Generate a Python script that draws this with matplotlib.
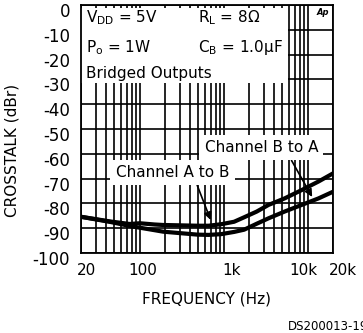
import numpy as np
import matplotlib
matplotlib.use("Agg")
import matplotlib.pyplot as plt
import matplotlib.transforms as mtransforms
from matplotlib.patches import Rectangle
from matplotlib.ticker import LogLocator, NullFormatter, FixedLocator

# curve data
freq = [20, 45, 76, 100, 150, 190, 490, 660, 930, 1330, 1750, 2470, 3420, 5300, 8500, 13400, 20000]
a_to_b = [-85.4, -87.3, -88.3, -88.0, -88.5, -88.7, -89.0, -89.0, -88.4, -87.4, -85.6,
          -83.3, -80.6, -78.0, -74.6, -71.2, -67.9]
b_to_a = [-85.4, -87.5, -89.1, -89.8, -90.8, -91.4, -92.6, -92.7, -92.4, -91.5, -90.6,
          -88.2, -86.0, -83.3, -80.6, -78.0, -75.3]

xticks = [20, 100, 1000, 10000, 20000]
xtick_labels = ["20", "100", "1k", "10k", "20k"]
yticks = [0, -10, -20, -30, -40, -50, -60, -70, -80, -90, -100]

plt.rcParams['font.family'] = ['DejaVu Sans']
plt.rcParams['mathtext.default'] = 'regular'

fig = plt.figure(figsize=(3.63, 3.33), dpi=100)
ax = fig.add_axes([81 / 363, 1 - 253 / 333, 252 / 363, 248 / 333])

ax.set_xscale('log')
ax.set_xlim(20, 20000)
ax.set_ylim(-100, 0)

ax.xaxis.set_major_locator(FixedLocator(xticks))
ax.set_xticklabels(xtick_labels)
ax.xaxis.set_minor_locator(LogLocator(base=10, subs=np.arange(2, 10)))
ax.xaxis.set_minor_formatter(NullFormatter())
ax.set_yticks(yticks)
ax.set_yticklabels([str(v) for v in yticks])

ax.tick_params(which='both', length=0)
ax.tick_params(axis='y', pad=8, labelsize=12)
ax.tick_params(axis='x', pad=7, labelsize=11)

# nudge labels the way the datasheet has them
for lbl, dx in zip(ax.get_xticklabels(), [6, 3, 8, -4, 10]):
    lbl.set_transform(lbl.get_transform() +
                      mtransforms.ScaledTranslation(dx / 100, 0, fig.dpi_scale_trans))
for lbl in ax.get_yticklabels():
    lbl.set_transform(lbl.get_transform() +
                      mtransforms.ScaledTranslation(0, -5 / 100, fig.dpi_scale_trans))

ax.grid(which='major', axis='both', color='k', lw=1.2)
ax.grid(which='minor', axis='x', color='k', lw=1.2)
for s in ax.spines.values():
    s.set_linewidth(1.3)

ax.plot(freq, a_to_b, color='k', lw=3, zorder=3)
ax.plot(freq, b_to_a, color='k', lw=3, zorder=3)

# white panel behind the conditions text
ax.add_patch(Rectangle((20, -31.5), 5900 - 20, 30.3, facecolor='white',
                       edgecolor='none', zorder=2.5))
ax.text(23, -5, r'V$_{DD}$ = 5V', fontsize=11, va='center', zorder=4)
ax.text(500, -5, r'R$_{L}$ = 8Ω', fontsize=11, va='center', zorder=4)
ax.text(23, -17, r'P$_{o}$ = 1W', fontsize=11, va='center', zorder=4)
ax.text(500, -17, r'C$_{B}$ = 1.0µF', fontsize=11, va='center', zorder=4)
ax.text(23, -27.6, 'Bridged Outputs', fontsize=11, va='center', zorder=4)
ax.text(18000, -3, 'Ap', fontsize=6, fontweight='bold', style='italic',
        ha='right', va='center', zorder=4)

box = dict(boxstyle='square,pad=0.35', facecolor='white', edgecolor='none')
ax.annotate('Channel B to A', xy=(11300, -77.4), xytext=(2800, -57.5),
            fontsize=11, ha='center', va='center', bbox=box, zorder=4,
            arrowprops=dict(arrowstyle='-|>', color='k', lw=1.2,
                            relpos=(0.74, 0), shrinkA=0, shrinkB=0))
ax.annotate('Channel A to B', xy=(700, -86.7), xytext=(245, -67.5),
            fontsize=11, ha='center', va='center', bbox=box, zorder=4,
            arrowprops=dict(arrowstyle='-|>', color='k', lw=1.2,
                            relpos=(0.7, 0), shrinkA=0, shrinkB=0))

ax.set_ylabel('CROSSTALK (dBr)', fontsize=11)
ax.yaxis.set_label_coords(-0.245, 0.415)
ax.set_xlabel('FREQUENCY (Hz)', fontsize=11, labelpad=10)
fig.text(288 / 363, 1 - 326 / 333, 'DS200013-19', fontsize=8.5, va='center')

fig.savefig('out.png', dpi=100)
